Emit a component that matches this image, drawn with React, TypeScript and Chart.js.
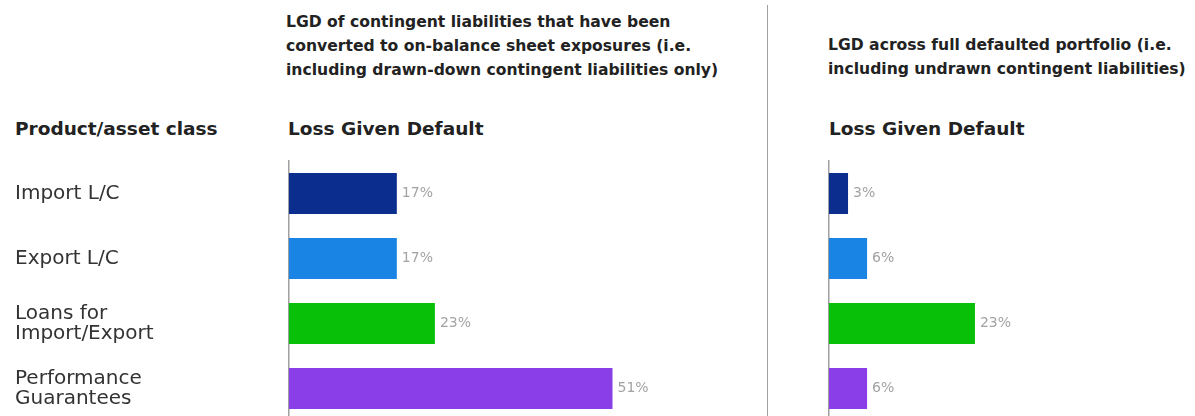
import React, { useEffect, useRef } from "react";
import { Chart, registerables } from "chart.js";

Chart.register(...registerables);

const categories: (string | string[])[] = [
  "Import L/C",
  "Export L/C",
  ["Loans for", "Import/Export"],
  ["Performance", "Guarantees"],
];
const drawnDownLGD = [17, 17, 23, 51];
const fullPortfolioLGD = [3, 6, 23, 6];
const barColors = ["#0b2e8e", "#1a84e4", "#08c008", "#8a3ee8"];

const leftTitle = [
  "LGD of contingent liabilities that have been",
  "converted to on-balance sheet exposures (i.e.",
  "including drawn-down contingent liabilities only)",
];
const rightTitle = [
  "LGD across full defaulted portfolio (i.e.",
  "including undrawn contingent liabilities)",
];
const categoryHeader = "Product/asset class";
const valueHeader = "Loss Given Default";

const FONT = "'DejaVu Sans', sans-serif";

const valueLabelPlugin = {
  id: "valueLabels",
  afterDatasetsDraw(chart: any) {
    const ctx = chart.ctx;
    ctx.save();
    ctx.font = `14px ${FONT}`;
    ctx.fillStyle = "#a3a3a3";
    ctx.textBaseline = "middle";
    ctx.textAlign = "left";
    chart.data.datasets.forEach((ds: any, di: number) => {
      const meta = chart.getDatasetMeta(di);
      meta.data.forEach((bar: any, i: number) => {
        ctx.fillText(`${ds.data[i]}%`, bar.x + 5, bar.y);
      });
    });
    ctx.restore();
  },
};

function makeConfig(values: number[], showLabels: boolean, max: number, axisWidth: number, padLeft: number, padRight: number): any {
  return {
    type: "bar",
    data: {
      labels: categories,
      datasets: [
        {
          data: values,
          backgroundColor: barColors,
          borderWidth: 0,
          barPercentage: 0.63,
          categoryPercentage: 1,
        },
      ],
    },
    options: {
      indexAxis: "y",
      animation: false,
      responsive: false,
      maintainAspectRatio: false,
      layout: { padding: { left: padLeft, right: padRight, top: 11, bottom: 1 } },
      plugins: { legend: { display: false }, tooltip: { enabled: false }, title: { display: false } },
      scales: {
        x: { display: false, min: 0, max },
        y: {
          type: "category",
          grid: { display: false, drawTicks: false },
          border: { display: true, color: "#a0a0a0", width: 1.5 },
          ticks: {
            display: showLabels,
            crossAlign: "far",
            padding: 0,
            color: "#333333",
            font: { family: FONT, size: 20, lineHeight: 1.0 },
          },
          afterFit(scale: any) {
            scale.width = axisWidth;
            scale.paddingTop = 0;
            scale.paddingBottom = 0;
          },
        },
      },
    },
    plugins: [valueLabelPlugin],
  };
}

function BarChart(props: { values: number[]; showLabels: boolean; max: number; axisWidth: number; padLeft: number; padRight: number; left: number; width: number }) {
  const ref = useRef<HTMLCanvasElement | null>(null);
  useEffect(() => {
    if (!ref.current) return;
    const chart = new Chart(ref.current, makeConfig(props.values, props.showLabels, props.max, props.axisWidth, props.padLeft, props.padRight));
    return () => chart.destroy();
  }, []);
  return (
    <canvas
      ref={ref}
      width={props.width}
      height={272}
      style={{ position: "absolute", left: props.left, top: 150, width: props.width, height: 272 }}
    />
  );
}

const titleStyle: React.CSSProperties = {
  position: "absolute",
  fontFamily: FONT,
  fontWeight: "bold",
  fontSize: 15.6,
  lineHeight: "24px",
  color: "#222",
  whiteSpace: "nowrap",
};
const headerStyle: React.CSSProperties = {
  position: "absolute",
  fontFamily: FONT,
  fontWeight: "bold",
  fontSize: 18.5,
  lineHeight: "24px",
  color: "#222",
  whiteSpace: "nowrap",
  top: 117,
};

export default function App() {
  return (
    <div style={{ position: "fixed", left: 0, top: 0, width: 1195, height: 416, overflow: "hidden", background: "#fff" }}>
      <div style={{ ...titleStyle, left: 286, top: 10 }}>
        {leftTitle.map((t, i) => (
          <div key={i}>{t}</div>
        ))}
      </div>
      <div style={{ ...titleStyle, left: 828, top: 33 }}>
        {rightTitle.map((t, i) => (
          <div key={i}>{t}</div>
        ))}
      </div>
      <div style={{ ...headerStyle, left: 15 }}>{categoryHeader}</div>
      <div style={{ ...headerStyle, left: 288 }}>{valueHeader}</div>
      <div style={{ ...headerStyle, left: 829 }}>{valueHeader}</div>
      <div style={{ position: "absolute", left: 767, top: 5, width: 1, height: 411, background: "#a0a0a0" }} />
      <BarChart values={drawnDownLGD} showLabels={true} max={70} axisWidth={274} padLeft={15} padRight={27} left={0} width={760} />
      <BarChart values={fullPortfolioLGD} showLabels={false} max={55} axisWidth={29} padLeft={0} padRight={17} left={800} width={395} />
    </div>
  );
}
